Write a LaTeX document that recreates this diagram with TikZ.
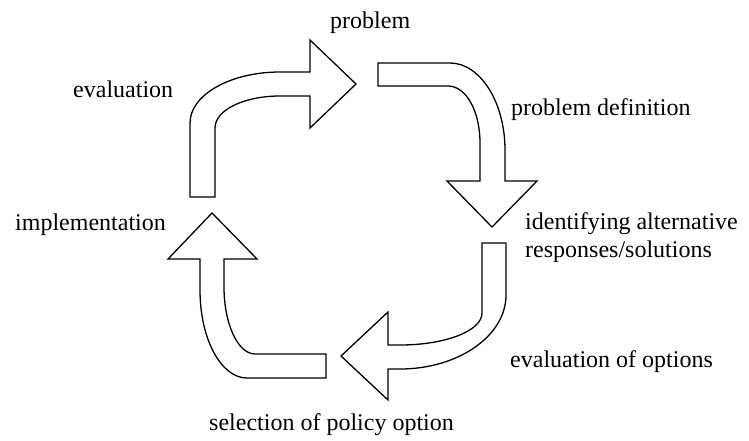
\documentclass[tikz,border=0pt]{standalone}
\usepackage{fontspec}
\setmainfont{Liberation Serif}
\begin{document}
\begin{tikzpicture}[x=1pt,y=-1pt,
  arrowshape/.style={draw=black, line width=1.3pt, fill=white, line join=miter},
  lbl/.style={inner sep=0pt, font=\fontsize{24}{28}\selectfont}]
\useasboundingbox (0,0) rectangle (749,440);
% arrow 1: evaluation -> problem
\draw[arrowshape] (190,197) -- (190,123) .. controls (190,95) and (230,72) .. (280,72)
  -- (310,72) -- (310,40) -- (356,84) -- (310,128) -- (310,96) -- (280,96)
  .. controls (244,96) and (215,110) .. (215,128) -- (215,197) -- cycle;
% arrow 2: problem -> identifying
\draw[arrowshape] (378,63) -- (450,63) .. controls (480,63) and (505,102) .. (505,150)
  -- (505,181) -- (537,181) -- (492,227) -- (447,181) -- (480,181) -- (480,143)
  .. controls (480,111) and (466,86) .. (448,86) -- (378,86) -- cycle;
% arrow 3: identifying -> selection
\draw[arrowshape] (506,243) -- (506,295) .. controls (506,336) and (458,369) .. (400,369)
  -- (388,369) -- (388,400) -- (341,356) -- (388,312) -- (388,345) -- (400,345)
  .. controls (445,345) and (482,331) .. (482,313) -- (482,243) -- cycle;
% arrow 4: selection -> implementation
\draw[arrowshape] (326,378) -- (247,378) .. controls (221,378) and (200,339) .. (200,290)
  -- (200,259) -- (168,259) -- (212,213) -- (257,259) -- (224,259) -- (224,287)
  .. controls (224,324) and (238,354) .. (255,354) -- (326,354) -- cycle;
% labels
\node[lbl, anchor=base west] (prob) at (330,28) {problem};
\node[lbl, anchor=base west] (eval) at (73,97) {evaluation};
\node[lbl, anchor=base west] (pdef) at (511,115) {problem definition};
\node[lbl, anchor=base west] (ident) at (525,229) {identifying alternative};
\node[lbl, anchor=base west] (resp) at (525,257) {responses/solutions};
\node[lbl, anchor=base west] (impl) at (15,230) {implementation};
\node[lbl, anchor=base west] (evop) at (510,367) {evaluation of options};
\node[lbl, anchor=base west] (sel) at (209,430) {selection of policy option};
\end{tikzpicture}
\end{document}
